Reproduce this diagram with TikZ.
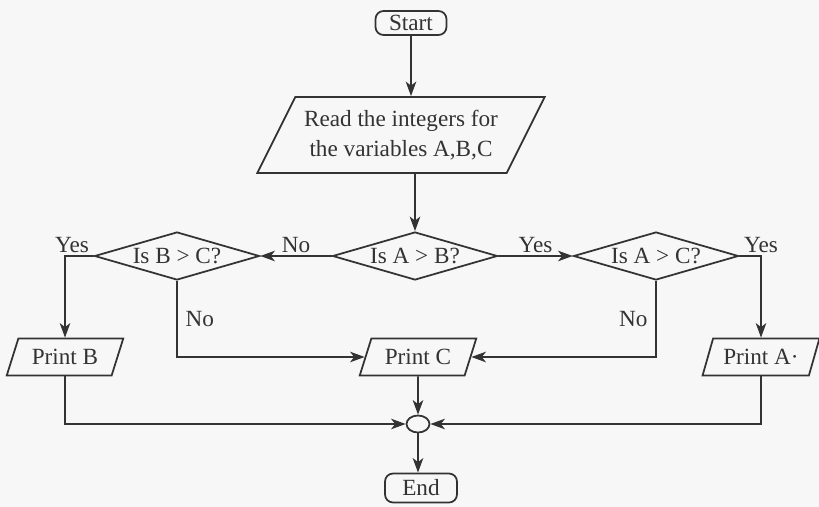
\documentclass[tikz,border=0pt]{standalone}
\usepackage{fontspec}
\setmainfont{Liberation Serif}
\usetikzlibrary{shapes.geometric,arrows.meta}

\begin{document}
\begin{tikzpicture}[x=0.02cm, y=-0.02cm, line width=1pt, color=black!80,
    font=\fontsize{13.2}{17}\selectfont,
    term/.style = {draw, rounded corners=0.16cm, inner sep=0, minimum width=1.42cm, minimum height=0.48cm},
    io/.style = {draw, trapezium, trapezium left angle=62, trapezium right angle=118, trapezium stretches=true,
                 inner sep=0, minimum width=2.34cm, minimum height=0.74cm, align=center},
    test/.style = {draw, diamond, aspect=3.4, inner sep=0, minimum width=3.3cm, minimum height=0.96cm},
    joint/.style = {draw, ellipse, inner sep=0, minimum width=0.46cm, minimum height=0.34cm},
    flow/.style = {-{Stealth[length=2.9mm, width=2.1mm, inset=0.8mm]}},
    tag/.style = {inner sep=1.5pt}]
    \fill[black!3] (0,0) rectangle (819,507);
    \useasboundingbox (0,0) rectangle (819,507);

    \node[term] (start) at (411,23) {Start};
    \node[io, trapezium left angle=55, trapezium right angle=125, minimum width=5.76cm, minimum height=1.52cm] (read) at (401,135)
        {Read the integers for\\the variables A,B,C};
    \node[test] (isAB) at (415,256) {Is A > B?};
    \node[test] (isBC) at (177,256) {Is B > C?};
    \node[test] (isAC) at (656,256) {Is A > C?};
    \node[io] (printB) at (65,357) {Print B};
    \node[io] (printC) at (418,357) {Print C};
    \node[io] (printA) at (761,357) {Print A\textperiodcentered};
    \node[joint] (merge) at (418,424) {};
    \node[term, minimum width=1.44cm, minimum height=0.58cm] (end) at (421,488) {End};

    \draw[flow] (start.south) -- (start.south |- read.north);
    \draw[flow] (isAB.north |- read.south) -- (isAB.north);
    \draw[flow] (isAB.west) -- node[tag, midway, above] (noAB) {No} (isBC.east);
    \draw[flow] (isAB.east) -- node[tag, midway, above] (yesAB) {Yes} (isAC.west);
    \draw[flow] (isBC.west) -| node[tag, pos=0.5, above, xshift=0.14cm] (yesBC) {Yes} (printB.north);
    \draw[flow] (isBC.south) |- node[tag, pos=0.25, right, xshift=0.1cm] (noBC) {No} (printC.west);
    \draw[flow] (isAC.east) -| node[tag, pos=0.5, above] (yesAC) {Yes} (printA.north);
    \draw[flow] (isAC.south) |- node[tag, pos=0.25, left, xshift=-0.1cm] (noAC) {No} (printC.east);

    \draw[flow] (printB.south) |- (merge.west);
    \draw[flow] (printA.south) |- (merge.east);
    \draw[flow] (printC.south) -- (merge.north);
    \draw[flow] (merge.south) -- (merge.south |- end.north);

\end{tikzpicture}
\end{document}
